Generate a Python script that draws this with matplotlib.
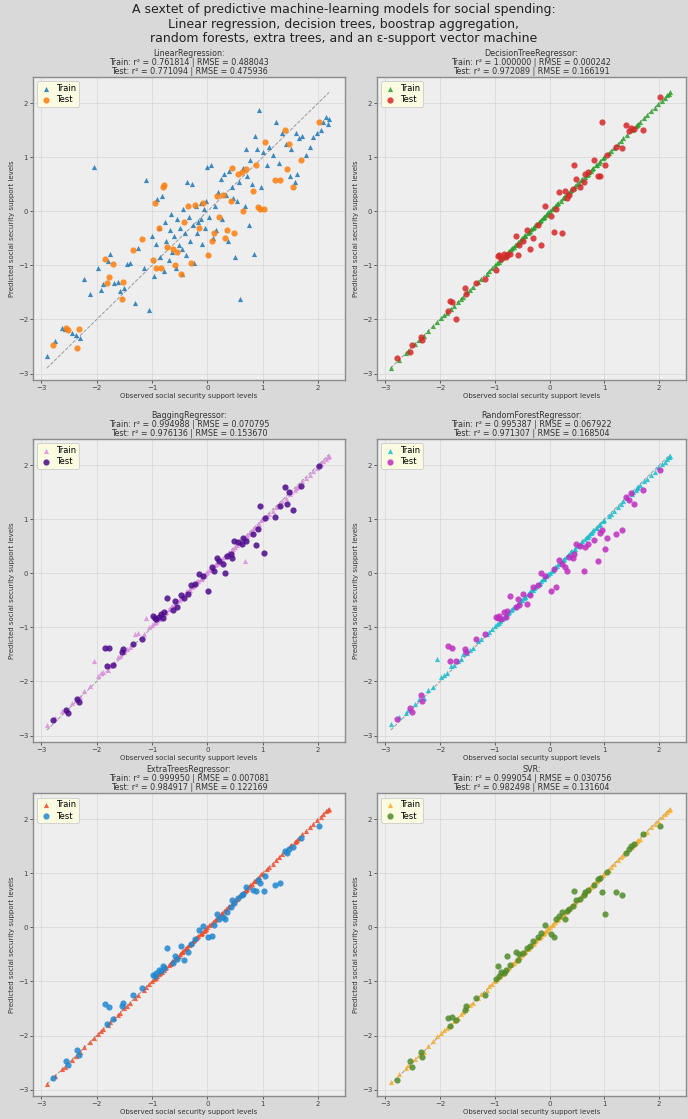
import matplotlib
matplotlib.use("Agg")
import matplotlib.pyplot as plt

# Observed (standardised) social security support levels, shared train / test split
train_obs = [
    -2.90, -2.75, -2.62, -2.58, -2.45, -2.38, -2.30, -2.22, -2.12, -2.05,
    -1.98, -1.92, -1.88, -1.80, -1.75, -1.68, -1.62, -1.58, -1.50, -1.45,
    -1.40, -1.30, -1.25, -1.15, -1.10, -1.05, -1.00, -0.96, -0.93, -0.90,
    -0.87, -0.85, -0.82, -0.79, -0.76, -0.74, -0.70, -0.68, -0.65, -0.63,
    -0.60, -0.57, -0.54, -0.52, -0.50, -0.46, -0.44, -0.40, -0.38, -0.36,
    -0.33, -0.31, -0.28, -0.26, -0.24, -0.20, -0.18, -0.16, -0.12, -0.10,
    -0.06, -0.04, -0.02, 0.00, 0.04, 0.06, 0.10, 0.14, 0.16, 0.20,
    0.24, 0.26, 0.30, 0.34, 0.38, 0.40, 0.44, 0.50, 0.53, 0.58,
    0.60, 0.64, 0.68, 0.72, 0.75, 0.78, 0.80, 0.85, 0.90, 0.93,
    0.98, 1.00, 1.08, 1.12, 1.18, 1.25, 1.30, 1.35, 1.42, 1.50,
    1.52, 1.58, 1.60, 1.65, 1.72, 1.78, 1.85, 1.92, 1.98, 2.05,
    2.10, 2.15, 2.18, 2.20, -0.11, 0.47, 0.70, 0.86, -0.45, 1.62,
]
test_obs = [
    -2.78, -2.55, -2.52, -2.35, -2.32, -1.85, -1.82, -1.78, -1.70, -1.55,
    -1.52, -1.35, -1.18, -0.98, -0.95, -0.92, -0.88, -0.83, -0.80, -0.78,
    -0.72, -0.62, -0.58, -0.55, -0.48, -0.42, -0.35, -0.30, -0.22, -0.15,
    -0.08, 0.02, 0.08, 0.12, 0.18, 0.22, 0.28, 0.32, 0.35, 0.42,
    0.45, 0.48, 0.55, 0.62, 0.65, 0.70, 0.82, 0.88, 0.92, 0.95,
    1.02, 1.05, 1.22, 1.32, 1.40, 1.45, 1.48, 1.55, 1.70, 2.02,
]

# Predictions per model
lr_train = [
    -2.67, -2.40, -2.15, -2.18, -2.25, -2.28, -2.35, -1.25, -1.52, 0.82,
    -1.05, -1.45, -1.35, -0.92, -0.78, -1.33, -1.30, -1.48, -1.42, -0.98,
    -0.95, -1.70, -0.68, -1.05, 0.58, -1.82, -0.45, -1.20, -0.60, 0.22,
    -0.30, -0.85, 0.28, -1.10, -0.20, -0.55, -0.90, -0.35, -0.05, -0.75,
    -0.45, -1.05, -0.15, -0.62, -0.30, -1.15, 0.05, -0.40, -0.80, 0.55,
    -0.10, -0.55, 0.50, -0.25, -0.95, 0.10, -0.40, -0.20, 0.15, -0.60,
    0.05, -0.30, 0.20, 0.82, -0.10, 0.85, -0.50, 0.10, -0.35, 0.35,
    0.60, -0.15, 0.70, 0.30, -0.55, 0.75, 0.45, -0.85, 0.20, 0.55,
    -1.62, 0.80, 0.10, 0.65, -0.25, 0.95, 0.50, -0.78, 1.15, 1.87,
    0.45, 1.10, 0.85, 1.20, 1.05, 1.65, 0.90, 1.45, 1.25, 0.65,
    1.15, 0.55, 1.45, 1.35, 1.40, 1.05, 1.20, 1.38, 1.45, 1.50,
    1.65, 1.75, 1.62, 1.70, -0.15, 0.25, 1.15, 1.40, -0.70, 0.70,
]
lr_test = [
    -2.48, -2.15, -2.20, -2.52, -2.18, -0.88, -1.32, -1.22, -0.98, -1.62,
    -1.30, -0.72, -0.52, -0.90, 0.15, -1.05, -0.30, -1.05, 0.45, 0.48,
    -0.65, -0.70, -1.00, -0.75, -1.15, -0.20, 0.10, -0.95, 0.12, -0.30,
    0.15, -0.80, -0.55, -0.40, 0.28, -0.10, 0.30, -0.50, -0.35, 0.20,
    0.80, -0.40, 0.70, 0.72, 0.00, 0.78, 0.38, 0.85, 0.08, 0.05,
    0.05, 1.28, 0.58, 0.58, 1.50, 0.78, 1.25, 0.45, 0.95, 1.65,
]

# the decision tree and extra trees reproduce the training targets exactly
dt_train = list(train_obs)
dt_test = [
    -2.72, -2.60, -2.47, -2.32, -2.38, -1.85, -1.65, -1.68, -2.00, -1.42,
    -1.52, -1.32, -1.25, -1.08, -0.82, -0.80, -0.88, -0.78, -0.85, -0.80,
    -0.78, -0.46, -0.80, -0.62, -0.55, -0.35, -0.70, -0.50, -0.25, -0.62,
    0.10, -0.08, -0.38, 0.05, 0.35, -0.40, 0.38, 0.25, 0.30, 0.42,
    0.85, 0.60, 0.45, 0.55, 0.70, 0.72, 0.95, 0.65, 0.65, 1.65,
    0.85, 1.05, 1.20, 1.18, 1.60, 1.48, 1.55, 1.52, 1.50, 2.12,
]

bag_train = [
    -2.80, -2.68, -2.55, -2.52, -2.40, -2.35, -2.28, -2.18, -2.08, -1.62,
    -1.90, -1.85, -1.82, -1.78, -1.72, -1.66, -1.55, -1.52, -1.46, -1.40,
    -1.36, -1.12, -1.10, -1.12, -0.82, -1.00, -0.96, -0.92, -0.90, -0.86,
    -0.84, -0.82, -0.78, -0.76, -0.74, -0.71, -0.66, -0.66, -0.62, -0.60,
    -0.58, -0.55, -0.52, -0.50, -0.48, -0.44, -0.40, -0.38, -0.35, -0.33,
    -0.30, -0.30, -0.25, -0.24, -0.22, -0.18, -0.15, -0.14, -0.10, -0.08,
    -0.04, -0.02, 0.00, 0.02, 0.06, 0.08, 0.10, 0.15, 0.18, 0.20,
    0.25, 0.27, 0.30, 0.33, 0.36, 0.40, 0.42, 0.48, 0.52, 0.56,
    0.58, 0.62, 0.22, 0.70, 0.72, 0.76, 0.78, 0.84, 0.88, 0.92,
    0.98, 1.00, 1.06, 1.10, 1.16, 1.22, 1.28, 1.34, 1.40, 1.46,
    1.50, 1.55, 1.58, 1.62, 1.70, 1.76, 1.82, 1.90, 1.95, 2.02,
    2.08, 2.12, 2.15, 2.18, -0.10, 0.46, 0.68, 0.85, -0.44, 1.60,
]
bag_test = [
    -2.72, -2.52, -2.58, -2.33, -2.38, -1.38, -1.72, -1.38, -1.70, -1.45,
    -1.40, -1.30, -1.22, -0.78, -0.82, -0.85, -0.80, -0.75, -0.82, -0.72,
    -0.45, -0.68, -0.52, -0.62, -0.40, -0.45, -0.38, -0.22, -0.20, -0.02,
    -0.05, -0.32, 0.12, 0.05, 0.28, 0.22, 0.18, 0.00, 0.32, 0.35,
    0.28, 0.60, 0.58, 0.55, 0.65, 0.60, 0.72, 0.52, 0.82, 1.25,
    0.38, 1.02, 1.05, 1.25, 1.60, 1.28, 1.50, 1.18, 1.62, 1.98,
]

rf_train = [
    -2.78, -2.66, -2.58, -2.52, -2.42, -2.33, -2.30, -2.16, -2.10, -1.58,
    -1.92, -1.88, -1.84, -1.72, -1.70, -1.62, -1.58, -1.50, -1.48, -1.42,
    -1.38, -1.26, -1.22, -1.12, -1.08, -1.02, -0.98, -0.94, -0.92, -0.88,
    -0.85, -0.83, -0.80, -0.77, -0.74, -0.72, -0.68, -0.66, -0.63, -0.62,
    -0.58, -0.56, -0.53, -0.50, -0.49, -0.45, -0.42, -0.39, -0.37, -0.35,
    -0.31, -0.30, -0.27, -0.25, -0.23, -0.19, -0.17, -0.15, -0.11, -0.09,
    -0.05, -0.03, -0.01, 0.01, 0.05, 0.07, 0.11, 0.14, 0.17, 0.21,
    0.24, 0.27, 0.31, 0.34, 0.38, 0.41, 0.44, 0.50, 0.53, 0.57,
    0.60, 0.63, 0.67, 0.71, 0.74, 0.77, 0.80, 0.84, 0.89, 0.92,
    0.97, 0.99, 1.06, 1.10, 1.16, 1.23, 1.28, 1.33, 1.40, 1.47,
    1.50, 1.55, 1.58, 1.63, 1.70, 1.75, 1.82, 1.88, 1.96, 2.02,
    2.06, 2.12, 2.15, 2.17, -0.10, 0.46, 0.68, 0.84, -0.44, 1.60,
]
rf_test = [
    -2.70, -2.50, -2.56, -2.25, -2.36, -1.35, -1.62, -1.38, -1.62, -1.40,
    -1.45, -1.22, -1.12, -0.80, -0.82, -0.78, -0.84, -0.72, -0.80, -0.70,
    -0.42, -0.62, -0.48, -0.58, -0.38, -0.56, -0.40, -0.25, -0.22, 0.00,
    -0.05, -0.32, 0.08, -0.25, 0.25, 0.18, 0.12, 0.05, 0.30, 0.28,
    0.35, 0.55, 0.50, 0.05, 0.48, 0.55, 0.62, 0.22, 0.75, 0.80,
    0.45, 0.65, 0.72, 0.80, 1.42, 1.35, 1.48, 1.28, 1.55, 1.92,
]

et_train = list(train_obs)
et_test = [
    -2.78, -2.48, -2.55, -2.27, -2.36, -1.42, -1.78, -1.48, -1.70, -1.45,
    -1.40, -1.25, -1.12, -0.88, -0.90, -0.85, -0.78, -0.80, -0.72, -0.75,
    -0.38, -0.65, -0.52, -0.58, -0.35, -0.60, -0.45, -0.30, -0.22, -0.05,
    0.02, -0.18, -0.15, 0.05, 0.25, 0.15, 0.20, 0.15, 0.28, 0.38,
    0.50, 0.45, 0.55, 0.60, 0.62, 0.75, 0.70, 0.68, 0.88, 0.82,
    0.68, 0.95, 0.78, 0.82, 1.42, 1.38, 1.45, 1.48, 1.65, 1.88,
]

svr_train = [
    -2.86, -2.72, -2.60, -2.55, -2.44, -2.36, -2.30, -2.20, -2.10, -2.00,
    -1.96, -1.90, -1.86, -1.80, -1.74, -1.68, -1.60, -1.56, -1.50, -1.44,
    -1.40, -1.30, -1.24, -1.15, -1.08, -1.04, -1.00, -0.95, -0.92, -0.90,
    -0.86, -0.84, -0.82, -0.78, -0.76, -0.73, -0.70, -0.67, -0.65, -0.62,
    -0.60, -0.56, -0.54, -0.51, -0.50, -0.46, -0.43, -0.40, -0.38, -0.35,
    -0.33, -0.30, -0.28, -0.26, -0.23, -0.20, -0.18, -0.15, -0.12, -0.10,
    -0.06, -0.04, -0.01, 0.00, 0.04, 0.06, 0.10, 0.14, 0.16, 0.20,
    0.24, 0.26, 0.30, 0.34, 0.37, 0.40, 0.44, 0.50, 0.52, 0.58,
    0.60, 0.64, 0.67, 0.72, 0.74, 0.78, 0.80, 0.85, 0.89, 0.93,
    0.97, 1.00, 1.07, 1.12, 1.17, 1.24, 1.30, 1.34, 1.42, 1.49,
    1.52, 1.57, 1.60, 1.64, 1.72, 1.77, 1.85, 1.91, 1.97, 2.04,
    2.09, 2.14, 2.17, 2.19, -0.11, 0.47, 0.69, 0.86, -0.45, 1.61,
]
svr_test = [
    -2.82, -2.48, -2.58, -2.30, -2.40, -1.68, -1.82, -1.66, -1.72, -1.52,
    -1.45, -1.30, -1.25, -0.95, -0.72, -0.90, -0.82, -0.85, -0.78, -0.52,
    -0.70, -0.45, -0.60, -0.50, -0.48, -0.38, -0.35, -0.25, -0.18, -0.10,
    0.05, -0.12, -0.18, 0.15, 0.22, 0.28, 0.15, 0.30, 0.35, 0.40,
    0.68, 0.50, 0.52, 0.60, 0.65, 0.70, 0.78, 0.90, 0.92, 0.65,
    0.25, 1.02, 0.65, 0.60, 1.38, 1.45, 1.50, 1.55, 1.72, 1.88,
]

model_names = ["LinearRegression", "DecisionTreeRegressor", "BaggingRegressor",
               "RandomForestRegressor", "ExtraTreesRegressor", "SVR"]
train_r2 = [0.761814, 1.000000, 0.994988, 0.995387, 0.999950, 0.999054]
train_rmse = [0.488043, 0.000242, 0.070795, 0.067922, 0.007081, 0.030756]
test_r2 = [0.771094, 0.972089, 0.976136, 0.971307, 0.984917, 0.982498]
test_rmse = [0.475936, 0.166191, 0.153670, 0.168504, 0.122169, 0.131604]
train_preds = [lr_train, dt_train, bag_train, rf_train, et_train, svr_train]
test_preds = [lr_test, dt_test, bag_test, rf_test, et_test, svr_test]

train_colors = ["#1f77b4", "#2ca02c", "#da8fdc", "#17becf", "#f04e2e", "#f5b030"]
test_colors = ["#ff7f0e", "#d62728", "#4b0a8a", "#c02cc0", "#1f88d0", "#4f8a2a"]

fig = plt.figure(figsize=(6.88, 11.19), dpi=100, facecolor="#d9d9d9")
fig.text(0.5, 0.997,
         "A sextet of predictive machine-learning models for social spending:\n"
         "Linear regression, decision trees, boostrap aggregation,\n"
         "random forests, extra trees, and an \u03b5-support vector machine",
         ha="center", va="top", fontsize=9.0, color="#222222", linespacing=1.12)

col_left = [0.048, 0.548]
col_width = [0.4535, 0.449]
row_bottom = [0.6604, 0.3369, 0.0205]
row_height = 0.2705

lo = min(train_obs + test_obs)
hi = max(train_obs + test_obs)

for i, name in enumerate(model_names):
    r, c = divmod(i, 2)
    ax = fig.add_axes([col_left[c], row_bottom[r], col_width[c], row_height])
    ax.set_facecolor("#eeeeee")
    ax.grid(True, color="#dadada", lw=0.6)
    ax.set_axisbelow(True)

    ax.plot([lo, hi], [lo, hi], "--", color="#999999", lw=0.7, zorder=1)
    ax.scatter(train_obs, train_preds[i], marker="^", s=14, color=train_colors[i],
               alpha=0.85, linewidths=0, label="Train", zorder=2)
    ax.scatter(test_obs, test_preds[i], marker="o", s=20, color=test_colors[i],
               alpha=0.85, linewidths=0, label="Test", zorder=3)

    ax.set_xlim(-3.15, 2.49)
    ax.set_ylim(-3.12, 2.48)
    ax.set_xticks(range(-3, 3))
    ax.set_yticks(range(-3, 3))
    ax.tick_params(labelsize=5, colors="#444444", length=2, width=0.6, pad=1.5)
    for sp in ax.spines.values():
        sp.set_color("#8c8c8c")
        sp.set_linewidth(1.0)

    ax.set_xlabel("Observed social security support levels", fontsize=5,
                  color="#333333", labelpad=1.5)
    ax.set_ylabel("Predicted social security support levels", fontsize=5,
                  color="#333333", labelpad=2)
    ax.set_title(f"{name}:\n"
                 f"Train: r\u00b2 = {train_r2[i]:.6f} | RMSE = {train_rmse[i]:.6f}\n"
                 f"Test: r\u00b2 = {test_r2[i]:.6f} | RMSE = {test_rmse[i]:.6f}",
                 fontsize=5.8, color="#333333", linespacing=1.02, pad=2.5)

    leg = ax.legend(loc="upper left", fontsize=6, facecolor="#fbfbe2",
                    edgecolor="#cccccc", framealpha=1, markerscale=1.0,
                    handletextpad=0.5, borderpad=0.3, labelspacing=0.3,
                    handlelength=1.5)
    leg.get_frame().set_linewidth(0.6)

fig.savefig("out.png", dpi=100, facecolor=fig.get_facecolor())
